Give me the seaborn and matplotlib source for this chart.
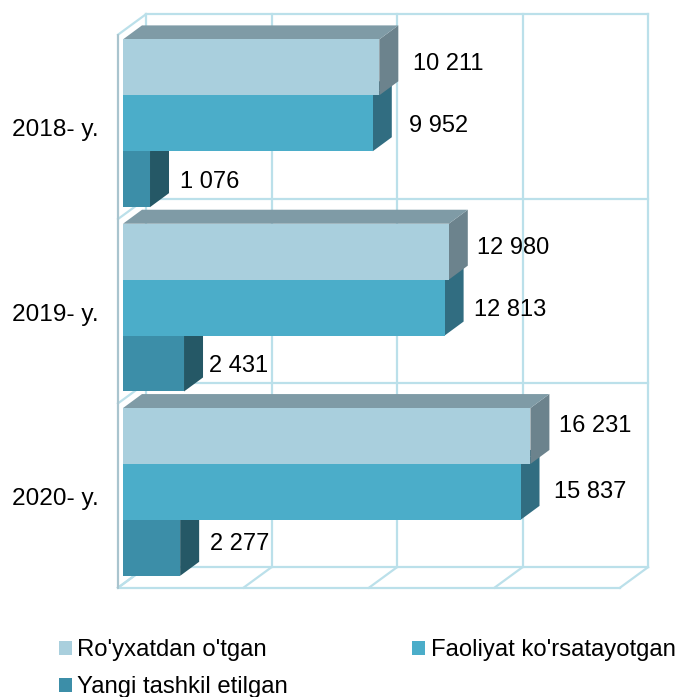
import matplotlib
matplotlib.use("Agg")
import matplotlib.pyplot as plt
from matplotlib.patches import Patch
from matplotlib.transforms import ScaledTranslation
import pandas as pd
import seaborn as sns

years = ["2018- y.", "2019- y.", "2020- y."]
registered = [10211, 12980, 16231]
active = [9952, 12813, 15837]
new_firms = [1076, 2431, 2277]
series_names = ["Ro'yxatdan o'tgan", "Faoliyat ko'rsatayotgan", "Yangi tashkil etilgan"]
value_labels = [["10 211", "12 980", "16 231"],
                ["9 952", "12 813", "15 837"],
                ["1 076", "2 431", "2 277"]]
grid_values = [0, 5000, 10000, 15000, 20000]

# styling
front_colors = ["#A9CFDD", "#4BADC9", "#3C8EA8"]
side_colors = ["#6C838D", "#316D81", "#255866"]
top_colors = ["#7F9BA6", "#316D81", "#255866"]
grid_color = "#BBE0EA"
font = ["Liberation Sans", "DejaVu Sans"]
label_nudge_px = [[(4, -3.5), (-2, -3.5), (-1, -10.5)],
                  [(6, 2.5), (-1, 2.5), (3, 0.5)],
                  [(0, 2.5), (-5, 2.5), (0, -3.5)]]

W, H = 678, 697
sns.set_theme(style="white")
plt.rcParams["font.family"] = font
fig = plt.figure(figsize=(W / 100, H / 100), dpi=100)
# axes: value 0..20000 and categories -0.5..2.5 mapped on the plot box
L, R, T, B = 123, 625, 31.1, 584.1
ax = fig.add_axes([L / W, 1 - B / H, (R - L) / W, (B - T) / H])

df = pd.DataFrame({
    "year": years * 3,
    "value": registered + active + new_firms,
    "series": sum([[s] * 3 for s in series_names], []),
})
sns.barplot(data=df, y="year", x="value", hue="series", hue_order=series_names,
            palette=front_colors, orient="h", width=0.91, gap=0, dodge=True,
            saturation=1, legend=False, ax=ax, zorder=5, linewidth=0, edgecolor="none")
ax.set_xlim(0, 20000)
ax.set_ylim(2.5, -0.5)
ax.set_xlabel("")
ax.set_ylabel("")
ax.set_xticks([])
sns.despine(ax=ax, left=True, bottom=True, top=True, right=True)
ax.patch.set_alpha(0)

PX_X = 20000 / (R - L)
PX_Y = 3 / (B - T)


def sx(px):
    return px * PX_X


def sy(px):
    return px * PX_Y  # positive = downward on the image


# frame (walls and floor) is offset from the bars in depth
fx, fy = sx(-5), sy(3.6)      # front plane
bx, by = sx(28), sy(-20.5)    # front -> back
line = dict(color=grid_color, lw=1.6, zorder=1, clip_on=False, solid_capstyle="projecting")
boundaries = [-0.5, 0.5, 1.5, 2.5]
for b in boundaries:
    ax.plot([grid_values[0] + fx + bx, grid_values[-1] + fx + bx], [b + fy + by] * 2, **line)
    ax.plot([fx, fx + bx], [b + fy, b + fy + by], **line)
for v in grid_values:
    ax.plot([v + fx + bx] * 2, [boundaries[0] + fy + by, boundaries[-1] + fy + by], **line)
    ax.plot([v + fx, v + fx + bx], [boundaries[-1] + fy, boundaries[-1] + fy + by], **line)
ax.plot([grid_values[0] + fx, grid_values[-1] + fx], [boundaries[-1] + fy] * 2, **line)
ax.plot([fx, fx], [boundaries[0] + fy, boundaries[-1] + fy],
        color="#A9C4CE", lw=1.6, zorder=1, clip_on=False)

# 3-D faces and value labels, derived from the bars the library drew
dx, dy = sx(19), sy(-14)
for i, container in enumerate(ax.containers):
    for j, bar in enumerate(container):
        x1 = bar.get_width()
        y0, y1 = bar.get_y(), bar.get_y() + bar.get_height()
        ax.fill([x1, x1 + dx, x1 + dx, x1], [y0, y0 + dy, y1 + dy, y1],
                color=side_colors[i], lw=0, zorder=2 + (2 - i), clip_on=False)
        ax.fill([0, dx, x1 + dx, x1], [y0, y0 + dy, y0 + dy, y0],
                color=top_colors[i], lw=0, zorder=2 + (2 - i), clip_on=False)
        nx, ny = label_nudge_px[i][j]
        ax.text(x1 + sx(30 + nx), (y0 + y1) / 2 + sy(ny), value_labels[i][j],
                ha="left", va="center", fontsize=17, color="black",
                family=font, zorder=8, clip_on=False)

# category labels
ax.tick_params(axis="y", length=0, pad=24 * 0.72, labelsize=17.6, labelcolor="black")
shift = ScaledTranslation(0, -4.5 / 100, fig.dpi_scale_trans)
for lab in ax.get_yticklabels():
    lab.set_transform(lab.get_transform() + shift)
    lab.set_family(font)

# two-column legend is filled column by column
order = [0, 2, 1]
handles = [Patch(facecolor=front_colors[k], edgecolor="none") for k in order]
fig.legend(handles, [series_names[k] for k in order], ncol=2, loc="lower left",
           bbox_to_anchor=(54 / W, -6 / H), frameon=False, fontsize=17.2,
           labelcolor="black", handlelength=0.55, handleheight=0.55, handletextpad=0.22,
           columnspacing=5.2, labelspacing=0.62, borderpad=0.2, borderaxespad=0.0)

fig.savefig("out.png", dpi=100)
